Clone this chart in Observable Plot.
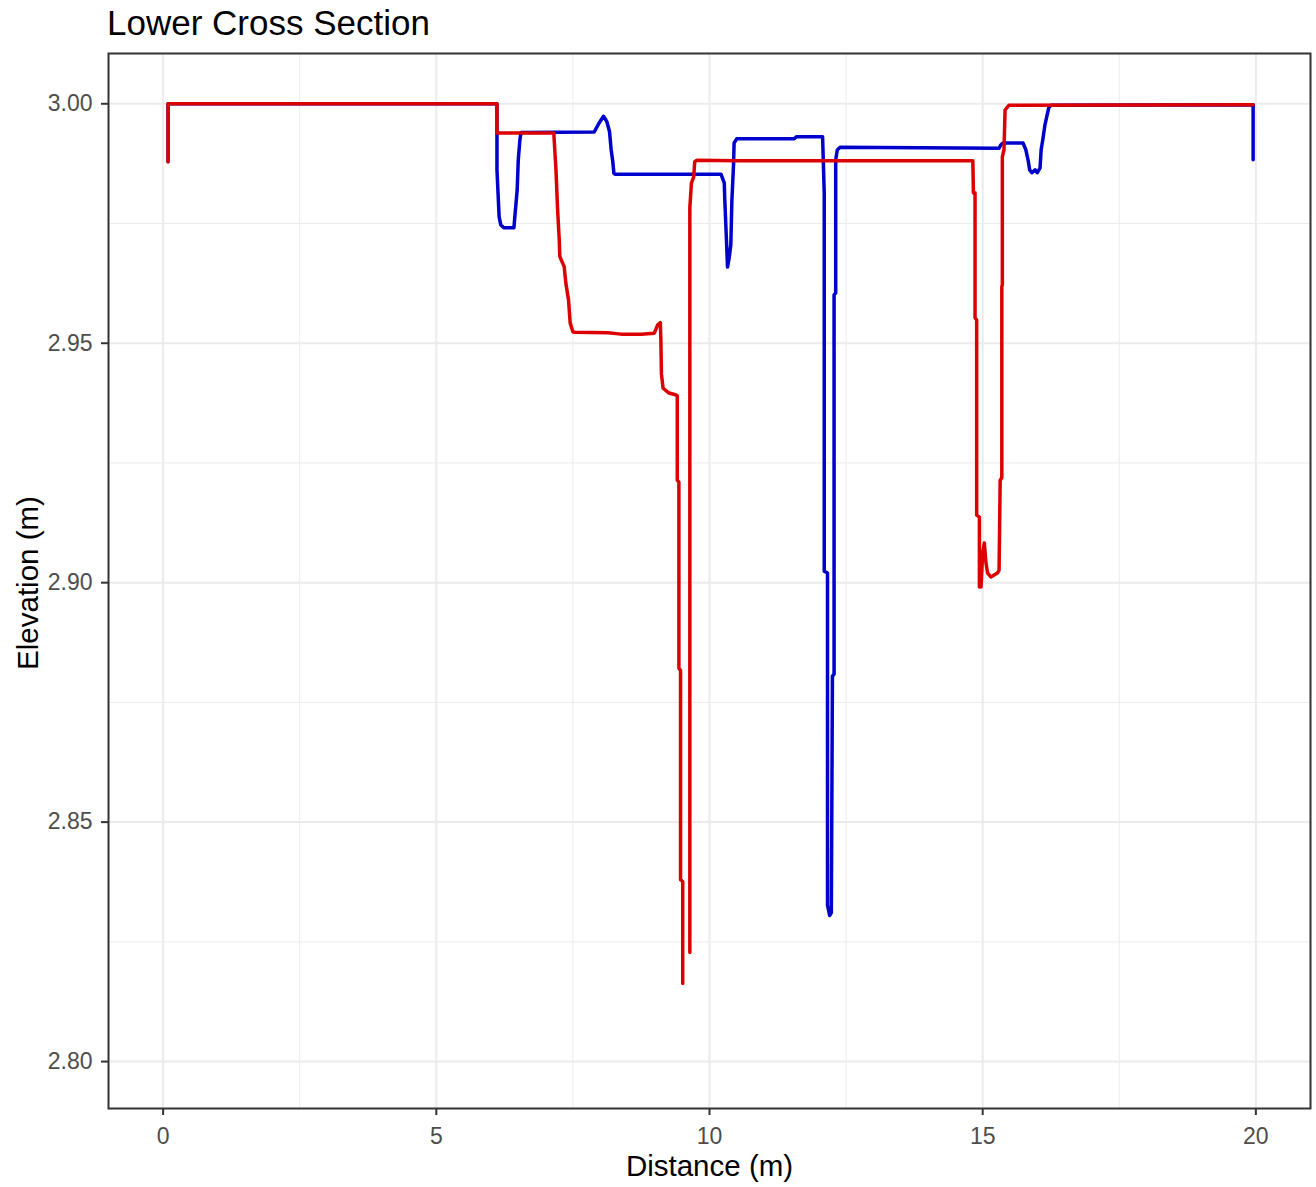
<!DOCTYPE html>
<html>
<head>
<meta charset="utf-8">
<script src="https://cdn.jsdelivr.net/npm/d3@7"></script>
<script src="https://cdn.jsdelivr.net/npm/@observablehq/plot@0.6"></script>
<style>
  body { margin: 0; background: #fff; }
  #title { font-family: "Liberation Sans", Arial, sans-serif; font-size: 35px; line-height: 45px; height: 45px; padding-left: 107px; color: #000; white-space: nowrap; }
  #chart svg { display: block; }
</style>
</head>
<body>
<div id="title">Lower Cross Section</div>
<div id="chart"></div>
<script>
// Tick values
const xTicks = [0, 5, 10, 15, 20];
const xMinorTicks = [2.5, 7.5, 12.5, 17.5];
const yTicks = [2.80, 2.85, 2.90, 2.95, 3.00];
const yMinorTicks = [2.825, 2.875, 2.925, 2.975];

// Red series (distance m, elevation m); null = gap in the record
const redX = [0.09, 0.09, 6.11, 6.11, 7.15, 7.19, 7.22, 7.25, 7.26, 7.34, 7.37, 7.42, 7.45, 7.50,
  7.53, 8.14, 8.38, 8.75, 8.99, 9.05, 9.10, 9.11, 9.12, 9.15, 9.26, 9.39, 9.41, 9.41, 9.44, 9.44,
  9.47, 9.47, 9.51, 9.51, 9.57, 9.64, 9.64, 9.67, 9.71, 9.73, 9.77, 10.5, 11.0, 11.9, 12.9, 13.6,
  14.2, 14.82, 14.83, 14.86, 14.86, 14.89, 14.89, 14.94, 14.94, 14.97, 15.00, 15.03, 15.06, 15.09,
  15.15, 15.27, 15.30, 15.32, 15.35, 15.35, 15.36, 15.36, 15.39, 15.41, 15.48, 19.95];
const redY = [2.9879, 3.0000, 3.0000, 2.9939, 2.9939, 2.9862, 2.9778, 2.9716, 2.9681, 2.9660, 2.9626, 2.9590, 2.9542, 2.9524,
  2.9523, 2.9522, 2.9519, 2.9519, 2.9521, 2.9538, 2.9543, 2.9507, 2.9436, 2.9406, 2.9396, 2.9392, 2.9390, 2.9214, 2.9210, 2.8821,
  2.8817, 2.8380, 2.8376, 2.8163, null, 2.8228, 2.9783, 2.9835, 2.9847, 2.9879, 2.9882, 2.9881, 2.9881, 2.9881, 2.9881, 2.9881,
  2.9881, 2.9881, 2.9814, 2.9814, 2.9553, 2.9549, 2.9141, 2.9137, 2.8991, 2.8991, 2.9062, 2.9083, 2.9041, 2.9020,
  2.9012, 2.9020, 2.9026, 2.9214, 2.9219, 2.9618, 2.9622, 2.9889, 2.9904, 2.9987, 2.9997, 2.9998];

// Blue series
const blueX = [0.09, 0.09, 6.11, 6.11, 6.11, 6.15, 6.18, 6.24, 6.42, 6.44, 6.48, 6.50, 6.53, 6.55,
  7.89, 7.98, 8.06, 8.12, 8.17, 8.20, 8.23, 8.25, 8.27, 10.21, 10.27, 10.28, 10.31, 10.33, 10.36, 10.39,
  10.41, 10.44, 10.45, 10.50, 11.55, 11.59, 12.07, 12.10, 12.10, 12.16, 12.16, 12.20, 12.23, 12.25, 12.28,
  12.28, 12.31, 12.31, 12.34, 12.39, 15.30, 15.33, 15.37, 15.74, 15.79, 15.83, 15.86, 15.90, 15.96, 16.00,
  16.05, 16.07, 16.10, 16.14, 16.18, 16.21, 16.25, 19.95, 19.95];
const blueY = [2.9879, 3.0000, 3.0000, 2.9939, 2.9862, 2.9764, 2.9747, 2.9741, 2.9741, 2.9768, 2.9820, 2.9883, 2.9925, 2.9940,
  2.9941, 2.9960, 2.9974, 2.9963, 2.9942, 2.9904, 2.9879, 2.9855, 2.9853, 2.9853, 2.9835, 2.9799, 2.9716, 2.9659, 2.9678, 2.9705,
  2.9799, 2.9873, 2.9918, 2.9927, 2.9927, 2.9931, 2.9931, 2.9813, 2.9024, 2.9020, 2.8326, 2.8305, 2.8311, 2.8805, 2.8809,
  2.9601, 2.9605, 2.9883, 2.9904, 2.9909, 2.9907, 2.9914, 2.9918, 2.9918, 2.9904, 2.9883, 2.9862, 2.9856, 2.9862, 2.9856,
  2.9866, 2.9904, 2.9925, 2.9956, 2.9977, 2.9992, 2.9997, 2.9998, 2.9883];

const toRows = (xs, ys) => xs.map((x, i) => ({x, y: ys[i] == null ? NaN : ys[i]}));
const red = toRows(redX, redY);
const blue = toRows(blueX, blueY);

const font = "'Liberation Sans', Arial, sans-serif";
const chart = Plot.plot({
  width: 1316,
  height: 1142,
  marginTop: 8,
  marginBottom: 79,
  marginLeft: 108,
  marginRight: 6,
  style: {fontFamily: font, fontSize: "23px", background: "#fff", overflow: "visible"},
  x: {domain: [-1.0, 21.0], label: null},
  y: {domain: [2.7902, 3.0105], label: null},
  marks: [
    Plot.ruleX(xMinorTicks, {stroke: "#ebebeb", strokeWidth: 1}),
    Plot.ruleY(yMinorTicks, {stroke: "#ebebeb", strokeWidth: 1}),
    Plot.ruleX(xTicks, {stroke: "#ebebeb", strokeWidth: 2}),
    Plot.ruleY(yTicks, {stroke: "#ebebeb", strokeWidth: 2}),
    Plot.line(blue, {x: "x", y: "y", stroke: "#0000cd", strokeWidth: 3.5}),
    Plot.line(red, {x: "x", y: "y", stroke: "#dc0000", strokeWidth: 3.5}),
    Plot.frame({stroke: "#333333", strokeWidth: 2}),
    Plot.axisX({ticks: xTicks, tickSize: 7, tickPadding: 12, stroke: "#333333", fill: "#4d4d4d",
      strokeWidth: 2, tickFormat: d => String(d), label: null, fontSize: 23}),
    Plot.axisY({ticks: yTicks, tickSize: 7, tickPadding: 9, stroke: "#333333", fill: "#4d4d4d",
      strokeWidth: 2, tickFormat: d3.format(".2f"), label: null, fontSize: 23}),
    Plot.text(["Distance (m)"], {frameAnchor: "bottom", text: d => d, dy: 67.5, fontSize: 29.5, fill: "#000"}),
    Plot.text(["Elevation (m)"], {frameAnchor: "left", textAnchor: "middle", text: d => d, rotate: -90, dx: -80, dy: 2, fontSize: 29.5, fill: "#000"})
  ]
});
document.getElementById("chart").appendChild(chart);
</script>
</body>
</html>
